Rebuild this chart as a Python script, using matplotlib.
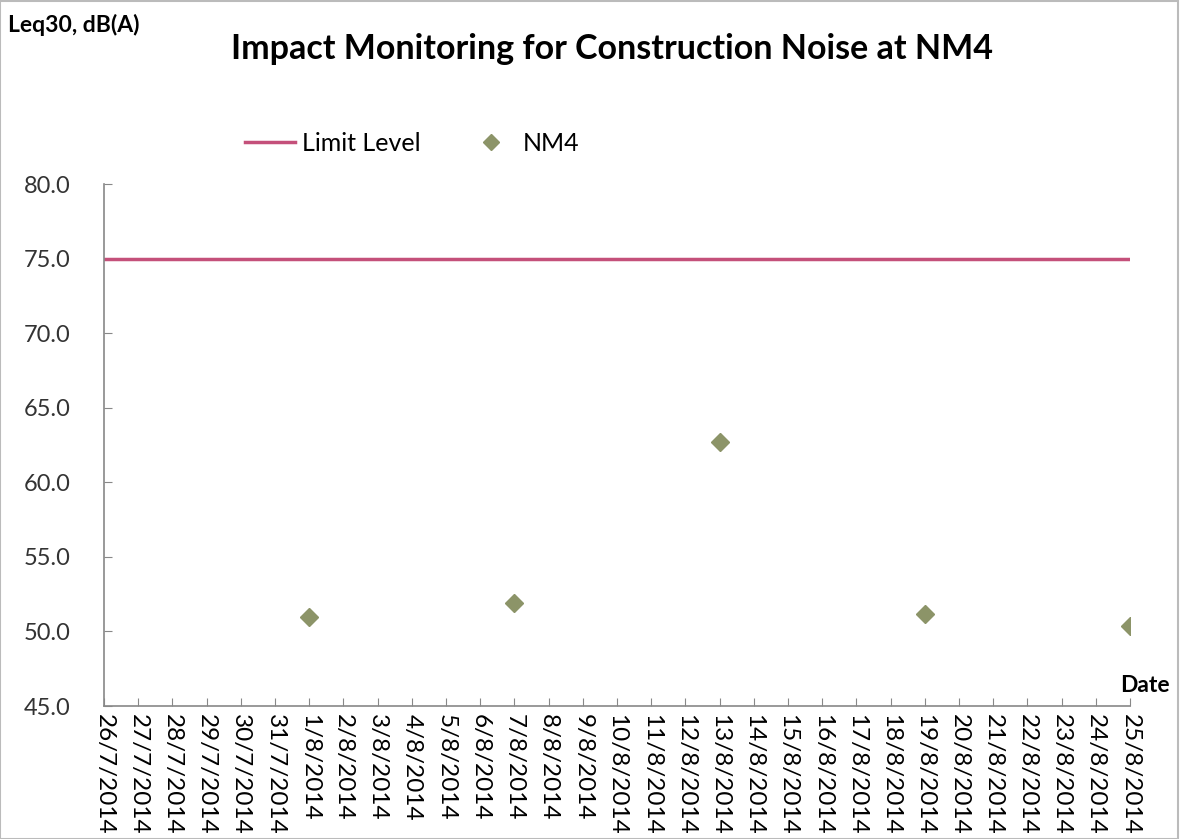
import matplotlib

matplotlib.use("Agg")

import datetime as dt
import matplotlib.pyplot as plt
import matplotlib.dates as mdates

# ---------------------------------------------------------------------------
# Data
# ---------------------------------------------------------------------------
start_date = dt.date(2014, 7, 26)
end_date = dt.date(2014, 8, 25)

limit_dates = [start_date, end_date]
limit_values = [75.0, 75.0]

nm4_dates = [
    dt.date(2014, 8, 1),
    dt.date(2014, 8, 7),
    dt.date(2014, 8, 13),
    dt.date(2014, 8, 19),
    dt.date(2014, 8, 25),
]
nm4_values = [51.0, 51.9, 62.7, 51.2, 50.4]

y_ticks = [45.0, 50.0, 55.0, 60.0, 65.0, 70.0, 75.0, 80.0]

plt.rcParams["font.family"] = ["Lato", "DejaVu Sans"]

fig = plt.figure(figsize=(11.82, 8.39), dpi=100)
ax = fig.add_axes([0.088, 0.1585, 0.868, 0.622])

ax.plot(limit_dates, limit_values, color="#C4507A", lw=2.5, label="Limit Level")
ax.plot(nm4_dates, nm4_values, ls="none", marker="D", ms=9,
        color="#8C9468", label="NM4")

ax.set_xlim(mdates.date2num(start_date), mdates.date2num(end_date))
ax.set_ylim(45, 80)
ax.set_yticks(y_ticks)
ax.set_yticklabels([f"{v:.1f}" for v in y_ticks], fontsize=17, color="#333333")

ax.xaxis.set_major_locator(mdates.DayLocator())
ax.xaxis.set_major_formatter(
    matplotlib.ticker.FuncFormatter(
        lambda x, pos: (lambda d: f"{d.day}/{d.month}/{d.year}")(mdates.num2date(x))
    )
)
for lbl in ax.get_xticklabels():
    lbl.set_rotation(-90)
    lbl.set_fontsize(17.5)
    lbl.set_va("top")
    lbl.set_ha("center")

ax.tick_params(axis="both", direction="in", length=6, color="#888888")
ax.tick_params(axis="y", pad=24)
ax.tick_params(axis="x", pad=6)
for side in ["top", "right"]:
    ax.spines[side].set_visible(False)
for side in ["left", "bottom"]:
    ax.spines[side].set_color("#888888")
    ax.spines[side].set_linewidth(1.2)

fig.text(0.518, 0.942, "Impact Monitoring for Construction Noise at NM4",
         ha="center", va="center", fontsize=24.5, fontweight="bold")
fig.text(0.007, 0.97, "Leq30, dB(A)", ha="left", va="center",
         fontsize=16.5, fontweight="bold")
fig.text(0.948, 0.183, "Date", ha="left", va="center",
         fontsize=16.5, fontweight="bold")

ax.legend(loc="center left", bbox_to_anchor=(0.115, 1.078), ncol=2, frameon=False,
          fontsize=18, handlelength=2.0, handletextpad=0.3, columnspacing=1.8,
          markerscale=0.85)

border = plt.Rectangle((0.0, 0.0), 0.997, 0.999, transform=fig.transFigure,
                       fill=False, edgecolor="#BBBBBB", lw=1.5)
fig.patches.append(border)

fig.savefig("out.png", dpi=100)
